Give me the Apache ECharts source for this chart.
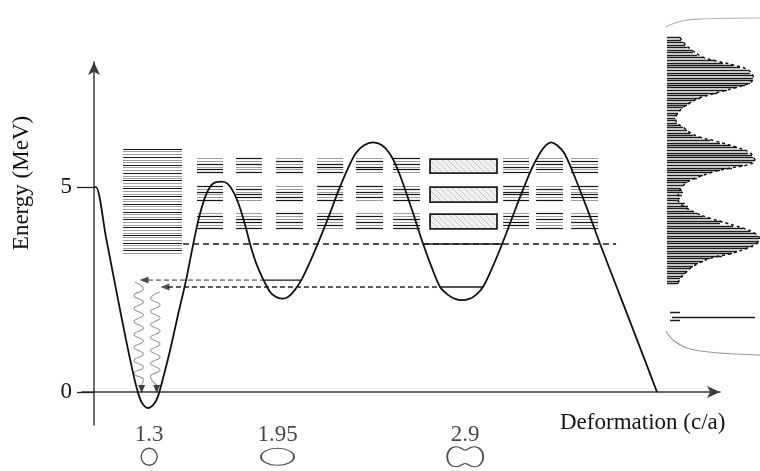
<!DOCTYPE html>
<html><head><meta charset="utf-8">
<script src="https://cdn.jsdelivr.net/npm/echarts@6/dist/echarts.min.js"></script>
<style>html,body{margin:0;padding:0;background:#fff}#c{width:760px;height:471px}</style>
</head><body><div id="c"></div>
<script>
// ---------- DATA ----------
// potential energy curve: deformation (c/a) vs energy (MeV)
const potentialD = [1.021,1.031,1.082,1.132,1.183,1.223,1.244,1.264,1.294,1.325,1.345,1.365,1.406,1.446,1.487,1.517,1.547,1.578,1.608,1.638,1.669,1.699,1.730,1.760,1.790,1.811,1.841,1.876,1.912,1.942,1.973,2.003,2.033,2.074,2.114,2.155,2.206,2.256,2.307,2.347,2.388,2.433,2.479,2.520,2.560,2.600,2.641,2.687,2.732,2.773,2.813,2.849,2.884,2.920,2.955,2.990,3.036,3.087,3.137,3.188,3.238,3.279,3.309,3.335,3.365,3.401,3.441,3.512,3.583,3.659,3.735,3.811,3.871];
const potentialE = [5.00,5.00,3.76,2.51,1.27,0.37,-0.02,-0.27,-0.39,-0.29,-0.10,0.24,1.02,1.88,2.73,3.46,4.15,4.68,5.00,5.12,5.13,5.07,4.85,4.49,4.00,3.61,3.15,2.76,2.44,2.32,2.28,2.32,2.46,2.76,3.17,3.63,4.24,4.88,5.46,5.83,6.02,6.09,6.02,5.80,5.41,4.88,4.29,3.61,3.02,2.56,2.37,2.27,2.24,2.27,2.37,2.56,3.02,3.61,4.24,4.88,5.46,5.83,6.02,6.09,6.02,5.83,5.41,4.54,3.61,2.66,1.71,0.76,0.00];

// y-axis ticks, x (deformation) labels
const yTickValues = [0, 5];
const xTickValues = [1.3, 1.95, 2.9];
const xTickLabels = ['1.3', '1.95', '2.9'];
const xLabelE = -1.05;
const shapeE = -1.58;

// dense level block in the first well
const leftBlockD = [1.168, 1.466];
const leftDarkE = [5.93,5.73,5.54,5.34,5.16,4.97,4.78,4.59,4.40,4.21,4.02,3.83,3.64,3.46];
const leftGrayE = [5.87,5.80,5.67,5.61,5.48,5.41,5.28,5.22,5.10,5.03,4.91,4.84,4.72,4.65,4.53,4.46,4.34,4.27,4.15,4.08,3.96,3.89,3.77,3.70,3.58,3.51,3.40];

// columns of level clusters
const colStartD = [1.542,1.740,1.942,2.150,2.347,2.535,3.092,3.259,3.436];
const colEndD   = [1.674,1.871,2.079,2.282,2.484,2.671,3.223,3.395,3.573];
const bandE = [
  [5.71,5.64,5.57,5.50,5.43,5.36],
  [5.03,4.96,4.89,4.82,4.75,4.68],
  [4.36,4.29,4.22,4.15,4.08,4.01]
];
const colTones = [
  ['001011','101001','010101'],
  ['101001','010110','001101'],
  ['010101','001011','100101'],
  ['001101','100101','011010'],
  ['010110','101010','010101'],
  ['101010','010101','001011'],
  ['010101','101101','010110'],
  ['011010','010101','101001'],
  ['010101','100110','010101']
];

// hatched resonance boxes
const boxD = [2.722, 3.061];
const boxTopE = [5.68, 5.00, 4.34];
const boxBottomE = [5.34, 4.63, 3.98];

// dashed threshold line
const thresholdE = 3.61;
const thresholdD = [1.471, 3.664];

// solid levels inside wells: [dStart, dEnd, E]
const wellLevels = [[1.879,2.071,2.73],[2.773,2.990,2.56],[2.687,3.087,3.61]];

// dashed transitions back into first well
const upperArrowD = [1.294, 1.876], upperArrowE = 2.73, upperHeadD = 1.274;
const lowerArrowD = [1.395, 2.773], lowerArrowE = 2.56, lowerHeadD = 1.380;

// gamma cascades (wavy)
const wave1D = [1.228,1.271,1.223,1.271,1.223,1.271,1.223,1.271,1.223,1.271,1.223,1.271,1.223,1.271,1.223,1.271,1.262];
const wave1E = [2.683,2.512,2.354,2.195,2.037,1.878,1.720,1.561,1.402,1.244,1.085,0.927,0.768,0.610,0.451,0.293,0.171];
const wave2D = [1.355,1.307,1.355,1.307,1.355,1.307,1.355,1.307,1.355,1.307,1.355,1.307,1.355,1.307,1.338];
const wave2E = [2.439,2.280,2.122,1.963,1.805,1.646,1.488,1.329,1.171,1.012,0.854,0.695,0.537,0.378,0.171];
const waveHeadD = [1.262, 1.338], waveHeadE = 0.073;

// inset: magnified spectrum (energy, strength)
const insetE = [5.843,5.821,5.802,5.780,5.761,5.739,5.720,5.698,5.679,5.657,5.635,5.616,5.597,5.575,5.553,5.534,5.512,5.493,5.471,5.452,5.434,5.411,5.389,5.371,5.348,5.330,5.307,5.289,5.270,5.248,5.226,5.207,5.185,5.166,5.144,5.125,5.106,5.084,5.062,5.043,5.024,5.002,4.980,4.961,4.942,4.920,4.898,4.879,4.860,4.838,4.819,4.797,4.775,4.756,4.737,4.715,4.693,4.674,4.656,4.633,4.611,4.592,4.574,4.551,4.529,4.511,4.483,4.464,4.443,4.420,4.402,4.382,4.361,4.338,4.320,4.300,4.279,4.257,4.238,4.218,4.197,4.175,4.156,4.136,4.115,4.093,4.074,4.054,4.033,4.011,3.992,3.972,3.951,3.929,3.910,3.891,3.869,3.847,3.828];
const insetS = [13,14,16,18,20,25,26,30,36,48,56,66,73,81,83,86,86,86,83,78,70,60,50,40,33,28,23,20,16,13,11,10,8,8,10,13,16,20,23,26,33,43,53,63,70,78,81,85,86,88,85,76,65,53,45,36,30,23,20,16,13,15,16,15,13,11,18,21,20,26,30,36,43,55,53,66,76,83,88,91,92,92,91,86,80,70,65,55,43,36,31,26,23,20,18,16,13,11,11];
const envS = [13,16.3,24.7,36.3,48,66.3,81.3,86.3,83,69.7,49.7,33,23,16.3,11.3,8.7,9.7,16.3,23,33,48,69.7,83,86.3,88,83,64.7,44.7,29.7,19.7,14.7,11.3,11.3,13,19.7,29.7,43,59.7,76.3,88,92.3,89.7,79.7,64.7,43,31.3,23,18,13,11.3];
const envE = [5.843,5.802,5.739,5.679,5.652,5.616,5.575,5.512,5.471,5.434,5.389,5.348,5.307,5.270,5.226,5.185,5.144,5.106,5.062,5.024,4.994,4.942,4.898,4.860,4.838,4.803,4.775,4.737,4.693,4.656,4.611,4.565,4.511,4.483,4.443,4.402,4.361,4.320,4.279,4.238,4.197,4.156,4.115,4.074,4.033,3.992,3.951,3.910,3.869,3.828];
const insetLow = [[3,13,3.593],[5,88,3.555],[3,13,3.528]];

// inset frame / zoom bracket (inset coordinates)
const bracketTopS = [-63,-39,-12], bracketTopE = [4.879,4.879,5.780];
const capTopS = [-12,-10,-5,3,15,33,93], capTopE = [5.780,5.846,5.903,5.944,5.977,5.993,6.001];
const capLeftS = [-11,-11], capLeftE = [5.780,4.674];
const bracketBotS = [-44,-21,-7,-3,6,23,53,93], bracketBotE = [4.150,4.150,3.544,3.462,3.364,3.290,3.257,3.241];

// ---------- BUILD ----------
const zip = (a, b) => a.map((v, i) => [v, b[i]]);
const FONT = '"Liberation Serif", "Times New Roman", serif';
const INK = '#141414';

const leftLevels = [];
leftDarkE.forEach(e => leftLevels.push([leftBlockD[0], leftBlockD[1], e, 1]));
leftGrayE.forEach(e => leftLevels.push([leftBlockD[0], leftBlockD[1], e, 0]));
const colLevels = [];
colStartD.forEach((d0, c) => {
  bandE.forEach((band, b) => {
    band.forEach((e, k) => colLevels.push([d0, colEndD[c], e, +colTones[c][b][k]]));
  });
});
const boxes = boxTopE.map((t, i) => [boxD[0], boxD[1], t, boxBottomE[i]]);
const insetLines = insetE.map((e, i) => [0, insetS[i], e]).concat(insetLow);

// hatch pattern
const pc = document.createElement('canvas'); pc.width = 6; pc.height = 6;
const g = pc.getContext('2d');
g.fillStyle = '#f1f1f1'; g.fillRect(0, 0, 6, 6);
g.strokeStyle = '#c6c6c6'; g.lineWidth = 1;
g.beginPath(); g.moveTo(-1, -1); g.lineTo(7, 7); g.stroke();

function levelItem(params, api) {
  const p0 = api.coord([api.value(0), api.value(2)]);
  const p1 = api.coord([api.value(1), api.value(2)]);
  const y = Math.round(p0[1]) + 0.5;
  const dark = api.value(3) === 1;
  return { type: 'line', shape: { x1: p0[0], y1: y, x2: p1[0], y2: y },
    style: { stroke: dark ? '#161616' : '#9c9c9c', lineWidth: dark ? 1.2 : 1 } };
}
function solidItem(color, w) {
  return function (params, api) {
    const p0 = api.coord([api.value(0), api.value(2)]);
    const p1 = api.coord([api.value(1), api.value(2)]);
    return { type: 'line', shape: { x1: p0[0], y1: p0[1], x2: p1[0], y2: p1[1] },
      style: { stroke: color, lineWidth: w } };
  };
}
function boxItem(params, api) {
  const a = api.coord([api.value(0), api.value(2)]);
  const b = api.coord([api.value(1), api.value(3)]);
  return { type: 'rect', shape: { x: a[0], y: a[1], width: b[0] - a[0], height: b[1] - a[1] },
    style: { fill: { image: pc, repeat: 'repeat' }, stroke: '#222', lineWidth: 1.8 } };
}

const axisLineStyle = { color: '#3a3a3a', width: 1.5 };
const chart = echarts.init(document.getElementById('c'), null, { renderer: 'canvas' });
const plain = (name, data, color, width, extra) => Object.assign({
  type: 'line', name, data, showSymbol: false, symbol: 'none', clip: false, silent: true,
  lineStyle: { color, width }, z: 3
}, extra || {});

chart.setOption({
  animation: false,
  backgroundColor: '#fff',
  grid: [
    { left: 82, right: 40, top: 62, bottom: 46, outerBoundsMode: 'none', containLabel: false },
    { left: 667, right: 0, top: 20, bottom: 111, outerBoundsMode: 'none', containLabel: false }
  ],
  xAxis: [
    { gridIndex: 0, type: 'value', min: 0.96, max: 4.19,
      axisLine: { onZero: true, lineStyle: axisLineStyle, symbol: ['none', 'arrow'], symbolSize: [9, 13] },
      axisTick: { show: false }, splitLine: { show: false }, axisLabel: { show: false } },
    { gridIndex: 1, type: 'value', min: 0, max: 93, show: false }
  ],
  yAxis: [
    { gridIndex: 0, type: 'value', min: -0.805, max: 8.05, offset: -12,
      axisLine: { onZero: false, lineStyle: axisLineStyle, symbol: ['none', 'arrow'], symbolSize: [9, 13] },
      axisTick: { customValues: yTickValues, length: 17, lineStyle: { color: '#222', width: 1.3 } },
      axisLabel: { customValues: yTickValues, margin: 22, fontSize: 23, fontFamily: FONT, color: INK },
      splitLine: { show: false } },
    { gridIndex: 1, type: 'value', min: 3.2, max: 5.985, show: false }
  ],
  graphic: [
    { type: 'text', x: 22, y: 183, rotation: Math.PI / 2,
      style: { text: 'Energy (MeV)', font: '23px ' + FONT, fill: INK, textAlign: 'center', textVerticalAlign: 'middle' } },
    { type: 'text', x: 560, y: 423,
      style: { text: 'Deformation (c/a)', font: '23px ' + FONT, fill: INK, textAlign: 'left', textVerticalAlign: 'middle' } }
  ],
  series: [
    { type: 'custom', name: 'leftLevels', coordinateSystem: 'cartesian2d', renderItem: levelItem, data: leftLevels, clip: false, silent: true, z: 2 },
    { type: 'custom', name: 'colLevels', coordinateSystem: 'cartesian2d', renderItem: levelItem, data: colLevels, clip: false, silent: true, z: 2 },
    { type: 'custom', name: 'boxes', coordinateSystem: 'cartesian2d', renderItem: boxItem, data: boxes, clip: false, silent: true, z: 2 },
    plain('threshold', [[thresholdD[0], thresholdE], [thresholdD[1], thresholdE]], '#1a1a1a', 1.4, { lineStyle: { color: '#1a1a1a', width: 1.4, type: [6, 4] } }),
    { type: 'custom', name: 'wellLevels', coordinateSystem: 'cartesian2d', renderItem: solidItem('#1a1a1a', 1.4), data: wellLevels, clip: false, silent: true, z: 3 },
    plain('upperArrow', [[upperArrowD[0], upperArrowE], [upperArrowD[1], upperArrowE]], '#8a8a8a', 1.6, { lineStyle: { color: '#8a8a8a', width: 1.6, type: [5, 3] } }),
    plain('lowerArrow', [[lowerArrowD[0], lowerArrowE], [lowerArrowD[1], lowerArrowE]], '#222', 1.6, { lineStyle: { color: '#222', width: 1.6, type: [5, 3] } }),
    { type: 'scatter', name: 'leftHeads', clip: false, silent: true, z: 4,
      data: [[upperHeadD, upperArrowE], [lowerHeadD, lowerArrowE]],
      symbol: 'triangle', symbolSize: [7, 9], symbolRotate: 90, itemStyle: { color: '#222' } },
    plain('wave1', zip(wave1D, wave1E), '#999', 1.1, { smooth: 0.5 }),
    plain('wave2', zip(wave2D, wave2E), '#999', 1.1, { smooth: 0.5 }),
    { type: 'scatter', name: 'downHeads', clip: false, silent: true, z: 4,
      data: waveHeadD.map(d => [d, waveHeadE]),
      symbol: 'triangle', symbolSize: [7, 8], symbolRotate: 180, itemStyle: { color: '#111' } },
    plain('potential', zip(potentialD, potentialE), '#111', 1.8, { smooth: 0.3, z: 5 }),
    { type: 'scatter', name: 'xLabels', clip: false, silent: true, z: 4,
      data: xTickValues.map(v => [v, xLabelE]), symbolSize: 0,
      label: { show: true, position: 'inside', formatter: p => xTickLabels[p.dataIndex],
        fontSize: 23, fontFamily: FONT, color: INK } },
    { type: 'scatter', name: 'shapes', clip: false, silent: true, z: 4,
      data: [
        { value: [xTickValues[0], shapeE], symbol: 'circle', symbolSize: [16, 17] },
        { value: [xTickValues[1], shapeE], symbol: 'circle', symbolSize: [33, 17] },
        { value: [xTickValues[2], shapeE], symbol: 'path://M8 0C12 0 14 3 16 3C18 3 20 0 24 0C29 0 32 4 32 9C32 14 29 18 24 18C20 18 18 15 16 15C14 15 12 18 8 18C3 18 0 14 0 9C0 4 3 0 8 0Z', symbolSize: [36, 20] }
      ],
      itemStyle: { color: '#fff', borderColor: '#222', borderWidth: 1.4 } },
    // inset
    { type: 'custom', name: 'insetLines', coordinateSystem: 'cartesian2d', xAxisIndex: 1, yAxisIndex: 1,
      renderItem: function (params, api) {
        const p0 = api.coord([api.value(0), api.value(2)]);
        const p1 = api.coord([api.value(1), api.value(2)]);
        const y = Math.round(p0[1]) + 0.5;
        return { type: 'line', shape: { x1: p0[0], y1: y, x2: p1[0], y2: y }, style: { stroke: '#1e1e1e', lineWidth: 1.5 } };
      }, data: insetLines, clip: false, silent: true, z: 2 },
    plain('envelope', zip(envS, envE), '#111', 1.5, { xAxisIndex: 1, yAxisIndex: 1, smooth: 0.4, lineStyle: { color: '#111', width: 1.5, type: [3, 3] } }),
    plain('bracketTop', zip(bracketTopS, bracketTopE), '#9a9a9a', 1.1, { xAxisIndex: 1, yAxisIndex: 1 }),
    plain('capTop', zip(capTopS, capTopE), '#b0b0b0', 1.1, { xAxisIndex: 1, yAxisIndex: 1, smooth: 0.5 }),
    plain('capLeft', zip(capLeftS, capLeftE), '#c4c4c4', 1, { xAxisIndex: 1, yAxisIndex: 1 }),
    plain('bracketBot', zip(bracketBotS, bracketBotE), '#9a9a9a', 1.1, { xAxisIndex: 1, yAxisIndex: 1, smooth: 0.3 })
  ]
});
</script>
</body></html>
